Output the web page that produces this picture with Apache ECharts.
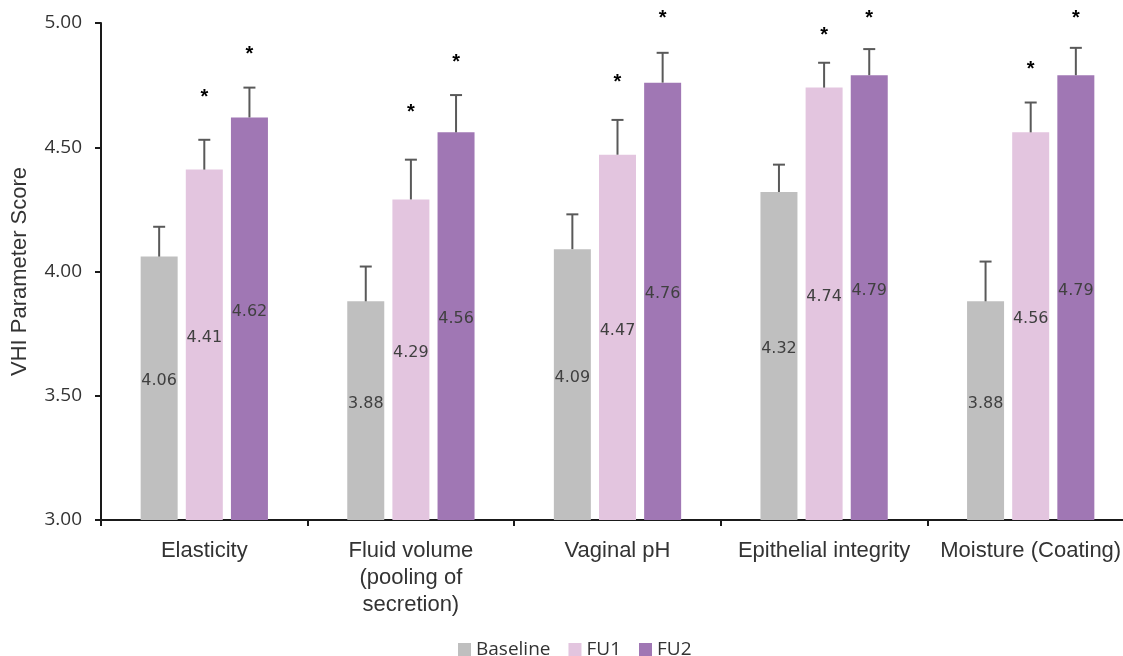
<!DOCTYPE html>
<html>
<head>
<meta charset="utf-8">
<script src="https://cdn.jsdelivr.net/npm/echarts@6/dist/echarts.min.js"></script>
<style>
html,body{margin:0;padding:0;background:#fff;}
#chart{width:1123px;height:656px;}
</style>
</head>
<body>
<div id="chart"></div>
<script>
const categories = ['Elasticity', 'Fluid volume\n(pooling of\nsecretion)', 'Vaginal pH', 'Epithelial integrity', 'Moisture (Coating)'];
const seriesNames = ['Baseline', 'FU1', 'FU2'];
const baseline = [4.06, 3.88, 4.09, 4.32, 3.88];
const fu1 = [4.41, 4.29, 4.47, 4.74, 4.56];
const fu2 = [4.62, 4.56, 4.76, 4.79, 4.79];
const baselineErr = [0.12, 0.14, 0.14, 0.11, 0.16];
const fu1Err = [0.12, 0.16, 0.14, 0.10, 0.12];
const fu2Err = [0.12, 0.15, 0.12, 0.105, 0.11];
// asterisk positions (value units) marking significance
const fu1Star = [4.72, 4.66, 4.78, 4.97, 4.835];
const fu2Star = [4.895, 4.86, 5.04, 5.04, 5.04];
const yTicks = [3.0, 3.5, 4.0, 4.5, 5.0];

const colors = ['#bfbfbf', '#e3c5df', '#a077b4'];
const BAR_W = 37;
const GAP_RATIO = 0.22;

const values = [baseline, fu1, fu2];
const errs = [baselineErr, fu1Err, fu2Err];
const stars = [null, fu1Star, fu2Star];

const chart = echarts.init(document.getElementById('chart'), null, {renderer: 'canvas'});

const barSeries = seriesNames.map((name, si) => ({
  name: name,
  type: 'bar',
  barWidth: BAR_W,
  barGap: (GAP_RATIO * 100) + '%',
  itemStyle: {color: colors[si]},
  label: {
    show: true,
    position: 'inside',
    offset: [0, -7],
    formatter: p => p.value.toFixed(2),
    color: '#404040',
    fontFamily: 'DejaVu Sans',
    fontSize: 16
  },
  emphasis: {disabled: true},
  data: values[si]
}));

const errSeries = seriesNames.map((name, si) => ({
  name: name + ' error',
  type: 'custom',
  z: 5,
  clip: false,
  encode: {x: 0, y: 1},
  renderItem: function (params, api) {
    const x = api.value(0);
    const v = api.value(1);
    const e = api.value(2);
    const s = api.value(3);
    const base = api.coord([x, v]);
    const top = api.coord([x, v + e]);
    const off = (si - 1) * (BAR_W + BAR_W * GAP_RATIO);
    const cx = base[0] + off;
    const children = [
      {type: 'line', shape: {x1: cx, y1: base[1], x2: cx, y2: top[1]}, style: {stroke: '#595959', lineWidth: 2}},
      {type: 'line', shape: {x1: cx - 6, y1: top[1], x2: cx + 6, y2: top[1]}, style: {stroke: '#595959', lineWidth: 2}}
    ];
    if (!isNaN(s)) {
      const sp = api.coord([x, s]);
      children.push({
        type: 'text',
        style: {
          text: '*', x: cx, y: sp[1] + 5,
          fill: '#000', fontSize: 20, fontWeight: 'bold', fontFamily: 'Liberation Sans',
          align: 'center', verticalAlign: 'middle'
        }
      });
    }
    return {type: 'group', children: children};
  },
  data: categories.map((c, i) => [i, values[si][i], errs[si][i], stars[si] ? stars[si][i] : '-'])
}));

chart.setOption({
  animation: false,
  backgroundColor: '#fff',
  grid: {left: 101, top: 23, right: -11, bottom: 136, containLabel: false, outerBoundsMode: 'none'},
  legend: {
    data: seriesNames,
    left: 453,
    top: 635,
    icon: 'rect',
    itemWidth: 13,
    itemHeight: 13,
    itemGap: 18,
    textStyle: {fontFamily: 'Open Sans', fontSize: 19, color: '#333'}
  },
  xAxis: {
    type: 'category',
    data: categories,
    axisLine: {lineStyle: {color: '#1a1a1a', width: 2}},
    axisTick: {show: true, length: 6, lineStyle: {color: '#1a1a1a', width: 2}},
    axisLabel: {
      interval: 0,
      margin: 17,
      fontFamily: 'Liberation Sans',
      fontSize: 22,
      lineHeight: 27,
      color: '#333'
    }
  },
  yAxis: {
    type: 'value',
    min: yTicks[0],
    max: yTicks[yTicks.length - 1],
    interval: 0.5,
    name: 'VHI Parameter Score',
    nameLocation: 'middle',
    nameGap: 70,
    nameRotate: 90,
    nameTextStyle: {fontFamily: 'Liberation Sans', fontSize: 22, color: '#333'},
    axisLine: {show: true, lineStyle: {color: '#1a1a1a', width: 2}},
    axisTick: {show: true, length: 6, lineStyle: {color: '#1a1a1a', width: 2}},
    splitLine: {show: false},
    axisLabel: {
      margin: 19,
      formatter: v => v.toFixed(2),
      fontFamily: 'Open Sans',
      fontSize: 19,
      color: '#333'
    }
  },
  series: barSeries.concat(errSeries)
});
</script>
</body>
</html>
